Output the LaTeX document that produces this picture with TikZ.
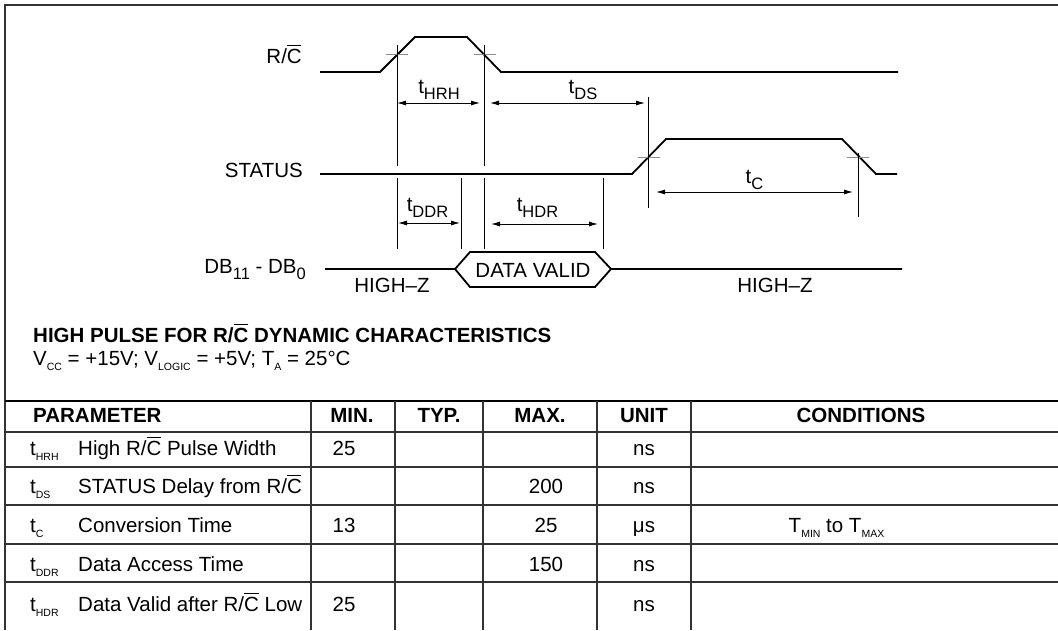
\documentclass[tikz,border=0pt]{standalone}
\usepackage{fontspec}
\setmainfont{Liberation Sans}
\usetikzlibrary{arrows.meta}
\newcommand{\Cbar}{\makebox[0pt][l]{\rule[0.82em]{0.70em}{0.065em}}C}
\newcommand{\dsub}[1]{\raisebox{-6pt}{\fontsize{16.5}{17}\selectfont #1}}
\newcommand{\tsub}[1]{\raisebox{-5pt}{\fontsize{10.5}{11}\selectfont #1}}

\begin{document}
\begin{tikzpicture}[x=1pt, y=-1pt, every node/.style={font=\fontsize{20.5}{24}\selectfont, inner sep=0pt}, wave/.style={line width=1.8pt}, guide/.style={line width=0.9pt}, cross/.style={line width=0.9pt, black!45}, dim/.style={line width=0.9pt, {Latex[length=9pt,width=5pt]}-{Latex[length=9pt,width=5pt]}}, frame/.style={line width=1.6pt, black!80}, sig/.style={anchor=base east}, tag/.style={anchor=base}, cell/.style={anchor=base west}]
\useasboundingbox (0,0) rectangle (1058,630);
\draw[frame, line width=2pt] (5,630) -- (5,5) -- (1058,5);

% timing waveforms
\node[sig] (rc) at (302,63) {R/\Cbar};
\node[sig] (status) at (303,177) {STATUS};
\node[sig] (db) at (306,273.5) {DB\dsub{11} - DB\dsub{0}};
\draw[wave] (320,72) -- (380,72) -- (415,37) -- (467,37) -- (501,72) -- (898,72);
\draw[wave] (320,174) -- (632,174) -- (666,139) -- (842,139) -- (876,174) -- (897,174);
\draw[wave] (325,269) -- (455,269) -- (470,252) -- (595,252) -- (611,269) -- (902,269);
\draw[wave] (455,269) -- (470,287) -- (595,287) -- (611,269);
\node[tag] (valid) at (533,277) {DATA VALID};
\node[tag] (hz1) at (392,292) {HIGH--Z};
\node[tag] (hz2) at (775,292) {HIGH--Z};

% crossings and guides
\coordinate (up) at (397,54.5);
\coordinate (dn) at (484.5,54.5);
\coordinate (stup) at (648.5,157);
\coordinate (stdn) at (858,157);
\foreach \c in {up,dn,stup,stdn} \draw[cross] ([xshift=-11pt]\c) -- ([xshift=11pt]\c);
\draw[guide] (397,45) -- (397,166) (397,178) -- (397,249);
\draw[guide] (484.5,45) -- (484.5,166) (484.5,178) -- (484.5,249);
\draw[guide] (648.5,97) -- (648.5,208);
\draw[guide] (858,153) -- (858,217);
\draw[guide] (461,178) -- (461,249);
\draw[guide] (603,178) -- (603,249);

% timing arrows
\coordinate (hrhA) at (397,103); \coordinate (hrhB) at (480,103);
\coordinate (dsA) at (490,103); \coordinate (dsB) at (645,103);
\coordinate (cA) at (656,192); \coordinate (cB) at (853,192);
\coordinate (ddrA) at (398,223); \coordinate (ddrB) at (460,223);
\coordinate (hdrA) at (491,224); \coordinate (hdrB) at (598,224);
\draw[dim] (hrhA) -- (hrhB);
\draw[dim] (dsA) -- (dsB);
\draw[dim] (cA) -- (cB);
\draw[dim] (ddrA) -- (ddrB);
\draw[dim] (hdrA) -- (hdrB);
\node[tag] (thrh) at (439,93) {t\dsub{HRH}};
\node[tag] (tds) at (583,93) {t\dsub{DS}};
\node[tag] (tc) at (754.5,183) {t\dsub{C}};
\node[tag] (tddr) at (427.5,211.5) {t\dsub{DDR}};
\node[tag] (thdr) at (537.5,211.5) {t\dsub{HDR}};

% caption
\node[cell] (title) at (33,342) {\bfseries HIGH PULSE FOR R/\Cbar{} DYNAMIC CHARACTERISTICS};
\node[cell] (cond) at (33,365) {V\tsub{CC} = +15V; V\tsub{LOGIC} = +5V; T\tsub{A} = 25°C};

% table
\draw[frame, black] (5,401) -- (1058,401);
\foreach \y in {432,467,505,544,582} \draw[frame] (5,\y) -- (1058,\y);
\foreach \x in {311,395,483,597,691} \draw[frame] (\x,401) -- (\x,630);
\node[cell] (hpar) at (33,422) {\bfseries PARAMETER};
\node[tag] (hmin) at (352,422) {\bfseries MIN.};
\node[tag] (htyp) at (439,422) {\bfseries TYP.};
\node[tag] (hmax) at (540,422) {\bfseries MAX.};
\node[tag] (hunit) at (644,422) {\bfseries UNIT};
\node[tag] (hcond) at (861,422) {\bfseries CONDITIONS};

\node[cell] (s1) at (30,455) {t\tsub{HRH}};
\node[cell] (d1) at (78,455) {High R/\Cbar{} Pulse Width};
\node[tag] (min1) at (344,455) {25};
\node[tag] (u1) at (644,455) {ns};

\node[cell] (s2) at (30,493) {t\tsub{DS}};
\node[cell] (d2) at (78,493) {STATUS Delay from R/\Cbar};
\node[tag] (max2) at (546,493) {200};
\node[tag] (u2) at (644,493) {ns};

\node[cell] (s3) at (30,532) {t\tsub{C}};
\node[cell] (d3) at (78,532) {Conversion Time};
\node[tag] (min3) at (344,532) {13};
\node[tag] (max3) at (546,532) {25};
\node[tag] (u3) at (644,532) {μs};
\node[tag] (c3) at (836.5,532) {T\tsub{MIN} to T\tsub{MAX}};

\node[cell] (s4) at (30,571) {t\tsub{DDR}};
\node[cell] (d4) at (78,571) {Data Access Time};
\node[tag] (max4) at (546,571) {150};
\node[tag] (u4) at (644,571) {ns};

\node[cell] (s5) at (30,611) {t\tsub{HDR}};
\node[cell] (d5) at (78,611) {Data Valid after R/\Cbar{} Low};
\node[tag] (min5) at (344,611) {25};
\node[tag] (u5) at (644,611) {ns};
\end{tikzpicture}
\end{document}
